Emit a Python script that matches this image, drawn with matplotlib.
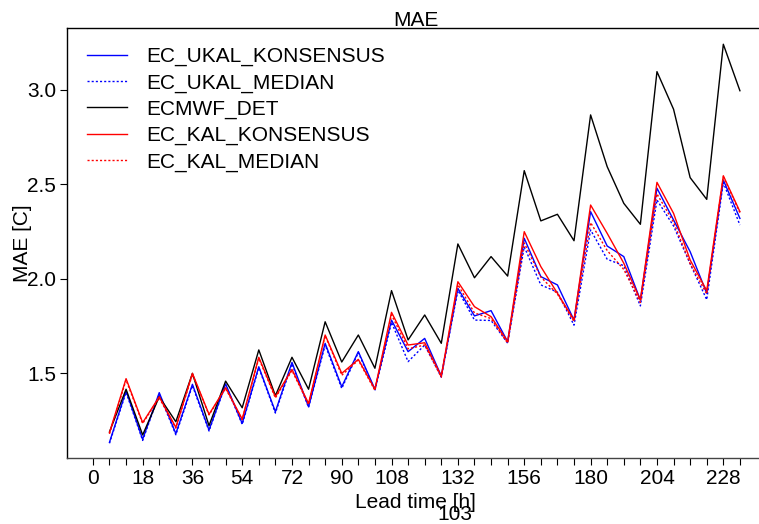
import numpy as np
import matplotlib
matplotlib.use('Agg')
import matplotlib.pyplot as plt

plt.rcParams['font.family'] = ['Liberation Sans', 'DejaVu Sans']

lead = list(range(6, 235, 6))

ukal_kons = [1.135, 1.407, 1.151, 1.398, 1.181, 1.442, 1.200, 1.444, 1.235, 1.535,
             1.297, 1.558, 1.323, 1.659, 1.429, 1.615, 1.416, 1.782, 1.615, 1.685,
             1.486, 1.950, 1.804, 1.832, 1.668, 2.215, 2.012, 1.968, 1.782, 2.356,
             2.174, 2.118, 1.888, 2.480, 2.312, 2.144, 1.924, 2.523, 2.320]
ukal_med = [1.130, 1.400, 1.145, 1.390, 1.175, 1.435, 1.195, 1.440, 1.230, 1.530,
            1.290, 1.550, 1.320, 1.650, 1.420, 1.610, 1.410, 1.770, 1.562, 1.650,
            1.480, 1.940, 1.782, 1.780, 1.660, 2.170, 1.968, 1.930, 1.755, 2.259,
            2.104, 2.070, 1.857, 2.418, 2.280, 2.080, 1.890, 2.510, 2.285]
det = [1.190, 1.416, 1.174, 1.376, 1.244, 1.500, 1.223, 1.459, 1.318, 1.624,
       1.382, 1.585, 1.416, 1.773, 1.560, 1.703, 1.527, 1.938, 1.677, 1.809,
       1.659, 2.185, 2.006, 2.118, 2.015, 2.573, 2.307, 2.342, 2.202, 2.868,
       2.594, 2.400, 2.289, 3.097, 2.898, 2.536, 2.421, 3.242, 2.996]
kal_kons = [1.186, 1.472, 1.239, 1.376, 1.214, 1.500, 1.283, 1.424, 1.258, 1.585,
            1.376, 1.521, 1.341, 1.703, 1.500, 1.574, 1.416, 1.823, 1.650, 1.662,
            1.486, 1.985, 1.853, 1.800, 1.668, 2.250, 2.065, 1.924, 1.782, 2.391,
            2.241, 2.083, 1.888, 2.511, 2.347, 2.100, 1.938, 2.546, 2.356]
kal_med = [1.180, 1.465, 1.235, 1.370, 1.210, 1.495, 1.280, 1.420, 1.255, 1.580,
           1.370, 1.515, 1.335, 1.700, 1.490, 1.570, 1.410, 1.810, 1.630, 1.650,
           1.480, 1.970, 1.820, 1.790, 1.660, 2.190, 2.010, 1.920, 1.775, 2.298,
           2.150, 2.050, 1.875, 2.450, 2.300, 2.080, 1.920, 2.540, 2.350]

xticks = list(range(0, 235, 6))
xlabels = [0, 18, 36, 54, 72, 90, 108, 132, 156, 180, 204, 228]
yticks = [1.5, 2.0, 2.5, 3.0]

fig = plt.figure(figsize=(7.59, 5.24), dpi=100)
ax = fig.add_axes([67 / 759, 1 - 458 / 524, (765.8 - 67) / 759, 430 / 524])

dot = (0, (1.5, 1.5))
ax.plot(lead, ukal_kons, color='blue', lw=1, label='EC_UKAL_KONSENSUS')
ax.plot(lead, ukal_med, color='blue', lw=1, linestyle=dot, label='EC_UKAL_MEDIAN')
ax.plot(lead, det, color='black', lw=1, label='ECMWF_DET')
ax.plot(lead, kal_kons, color='red', lw=1, label='EC_KAL_KONSENSUS')
ax.plot(lead, kal_med, color='red', lw=1, linestyle=dot, label='EC_KAL_MEDIAN')

ax.set_xlim(-9.36, 243.36)
ax.set_ylim(1.052, 3.328)
ax.set_xticks(xticks)
ax.set_xticklabels([str(t) if t in xlabels else '' for t in xticks])
ax.set_yticks(yticks)
ax.set_yticklabels(['1.5', '2.0', '2.5', '3.0'])
ax.tick_params(direction='out', length=5, width=0.8, labelsize=15, pad=3)
ax.spines['right'].set_visible(False)
for s in ['left', 'top', 'bottom']:
    ax.spines[s].set_linewidth(1)
ax.spines['bottom'].set_color('#444444')

leg = ax.legend(loc='upper left', bbox_to_anchor=(87 / 759, 1 - 47 / 524),
                bbox_transform=fig.transFigure, frameon=False, fontsize=15,
                handlelength=1.9, handletextpad=0.95, labelspacing=0.34,
                borderpad=0, borderaxespad=0)

fig.text(416 / 759, 1 - 26 / 524, 'MAE', ha='center', va='baseline', fontsize=15)
fig.text(415 / 759, 1 - 502 / 524, 'Lead time [h]', ha='center', va='center', fontsize=15)
fig.text(455 / 759, 1 - 514 / 524, '103', ha='center', va='center', fontsize=15)
fig.text(22 / 759, 1 - 243 / 524, 'MAE [C]', ha='center', va='center', fontsize=15,
         rotation=90)

fig.savefig('out.png', dpi=100)
